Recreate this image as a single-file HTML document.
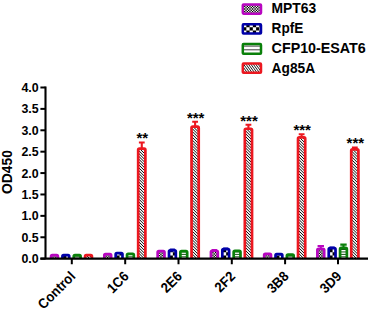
<!DOCTYPE html>
<html><head><meta charset="utf-8"><title>chart</title>
<style>
html,body{margin:0;padding:0;background:#fff;}
svg{display:block;font-family:"Liberation Sans",sans-serif;}
text{font-family:"Liberation Sans",sans-serif;font-weight:bold;fill:#000;}
</style></head><body>
<svg width="370" height="310" viewBox="0 0 370 310">
<defs>
<pattern id="pm" width="2.6" height="2.6" patternUnits="userSpaceOnUse"><rect width="2.6" height="2.6" fill="#fff"/><rect width="1.3" height="1.3" fill="#000"/><rect x="1.3" y="1.3" width="1.3" height="1.3" fill="#000"/></pattern>
<pattern id="pb" x="0.5" y="1.2" width="6.4" height="6.4" patternUnits="userSpaceOnUse"><rect width="6.4" height="6.4" fill="#fff"/><rect width="3.2" height="3.2" fill="#000"/><rect x="3.2" y="3.2" width="3.2" height="3.2" fill="#000"/></pattern>
</defs>
<rect width="370" height="310" fill="#fff"/>

<clipPath id="c1"><rect x="51.08" y="255.15" width="6.80" height="3.50"/></clipPath><g clip-path="url(#c1)"><rect x="51.08" y="255.15" width="6.80" height="3.50" fill="#fff"/><path d="M49.78,253.85h1.3v1.3h-1.3zM52.38,253.85h1.3v1.3h-1.3zM54.98,253.85h1.3v1.3h-1.3zM57.58,253.85h1.3v1.3h-1.3zM51.08,255.15h1.3v1.3h-1.3zM53.68,255.15h1.3v1.3h-1.3zM56.28,255.15h1.3v1.3h-1.3zM58.88,255.15h1.3v1.3h-1.3zM49.78,256.45h1.3v1.3h-1.3zM52.38,256.45h1.3v1.3h-1.3zM54.98,256.45h1.3v1.3h-1.3zM57.58,256.45h1.3v1.3h-1.3zM51.08,257.75h1.3v1.3h-1.3zM53.68,257.75h1.3v1.3h-1.3zM56.28,257.75h1.3v1.3h-1.3zM58.88,257.75h1.3v1.3h-1.3zM49.78,259.05h1.3v1.3h-1.3zM52.38,259.05h1.3v1.3h-1.3zM54.98,259.05h1.3v1.3h-1.3zM57.58,259.05h1.3v1.3h-1.3z" fill="#000"/></g>
<path d="M51.08,258.65 V256.35 Q51.08,255.15 52.28,255.15 H56.67 Q57.88,255.15 57.88,256.35 V258.65" fill="none" stroke="#b806c0" stroke-width="2.7" stroke-linejoin="round"/>
<clipPath id="c2"><rect x="62.43" y="255.15" width="6.80" height="3.50"/></clipPath><g clip-path="url(#c2)"><rect x="62.43" y="255.15" width="6.80" height="3.50" fill="#fff"/><path d="M56.53,248.90h3.25v3.25h-3.25zM63.03,248.90h3.25v3.25h-3.25zM69.53,248.90h3.25v3.25h-3.25zM59.78,252.15h3.25v3.25h-3.25zM66.28,252.15h3.25v3.25h-3.25zM56.53,255.40h3.25v3.25h-3.25zM63.03,255.40h3.25v3.25h-3.25zM69.53,255.40h3.25v3.25h-3.25zM59.78,258.65h3.25v3.25h-3.25zM66.28,258.65h3.25v3.25h-3.25z" fill="#000"/></g>
<path d="M62.43,258.65 V256.35 Q62.43,255.15 63.63,255.15 H68.03 Q69.23,255.15 69.23,256.35 V258.65" fill="none" stroke="#0000a8" stroke-width="2.7" stroke-linejoin="round"/>
<clipPath id="c3"><rect x="73.77" y="255.15" width="6.80" height="3.50"/></clipPath><g clip-path="url(#c3)"><rect x="73.77" y="255.15" width="6.80" height="3.50" fill="#fff"/><path d="M73.77,256.85 h6.80 " stroke="#175217" stroke-width="1.0" fill="none"/></g>
<path d="M73.77,258.65 V256.35 Q73.77,255.15 74.97,255.15 H79.38 Q80.58,255.15 80.58,256.35 V258.65" fill="none" stroke="#0a800a" stroke-width="2.7" stroke-linejoin="round"/>
<clipPath id="c4"><rect x="85.12" y="255.15" width="6.80" height="3.50"/></clipPath><g clip-path="url(#c4)"><rect x="85.12" y="255.15" width="6.80" height="3.50" fill="#fff"/><path d="M84.12,244.50 l8.80,8.80 M84.12,247.35 l8.80,8.80 M84.12,250.20 l8.80,8.80 M84.12,253.05 l8.80,8.80 M84.12,255.90 l8.80,8.80 M84.12,258.75 l8.80,8.80 " stroke="#000" stroke-width="1.0" fill="none"/></g>
<path d="M85.12,258.65 V256.35 Q85.12,255.15 86.33,255.15 H90.73 Q91.93,255.15 91.93,256.35 V258.65" fill="none" stroke="#ec1820" stroke-width="2.7" stroke-linejoin="round"/>
<clipPath id="c5"><rect x="104.32" y="254.15" width="6.80" height="4.50"/></clipPath><g clip-path="url(#c5)"><rect x="104.32" y="254.15" width="6.80" height="4.50" fill="#fff"/><path d="M103.02,252.85h1.3v1.3h-1.3zM105.62,252.85h1.3v1.3h-1.3zM108.22,252.85h1.3v1.3h-1.3zM110.82,252.85h1.3v1.3h-1.3zM104.32,254.15h1.3v1.3h-1.3zM106.92,254.15h1.3v1.3h-1.3zM109.52,254.15h1.3v1.3h-1.3zM112.12,254.15h1.3v1.3h-1.3zM103.02,255.45h1.3v1.3h-1.3zM105.62,255.45h1.3v1.3h-1.3zM108.22,255.45h1.3v1.3h-1.3zM110.82,255.45h1.3v1.3h-1.3zM104.32,256.75h1.3v1.3h-1.3zM106.92,256.75h1.3v1.3h-1.3zM109.52,256.75h1.3v1.3h-1.3zM112.12,256.75h1.3v1.3h-1.3zM103.02,258.05h1.3v1.3h-1.3zM105.62,258.05h1.3v1.3h-1.3zM108.22,258.05h1.3v1.3h-1.3zM110.82,258.05h1.3v1.3h-1.3zM104.32,259.35h1.3v1.3h-1.3zM106.92,259.35h1.3v1.3h-1.3zM109.52,259.35h1.3v1.3h-1.3zM112.12,259.35h1.3v1.3h-1.3z" fill="#000"/></g>
<path d="M104.32,258.65 V255.35 Q104.32,254.15 105.52,254.15 H109.92 Q111.12,254.15 111.12,255.35 V258.65" fill="none" stroke="#b806c0" stroke-width="2.7" stroke-linejoin="round"/>
<clipPath id="c6"><rect x="115.67" y="253.15" width="6.80" height="5.50"/></clipPath><g clip-path="url(#c6)"><rect x="115.67" y="253.15" width="6.80" height="5.50" fill="#fff"/><path d="M109.77,248.90h3.25v3.25h-3.25zM116.27,248.90h3.25v3.25h-3.25zM122.77,248.90h3.25v3.25h-3.25zM113.02,252.15h3.25v3.25h-3.25zM119.52,252.15h3.25v3.25h-3.25zM109.77,255.40h3.25v3.25h-3.25zM116.27,255.40h3.25v3.25h-3.25zM122.77,255.40h3.25v3.25h-3.25zM113.02,258.65h3.25v3.25h-3.25zM119.52,258.65h3.25v3.25h-3.25z" fill="#000"/></g>
<path d="M115.67,258.65 V254.35 Q115.67,253.15 116.88,253.15 H121.28 Q122.48,253.15 122.48,254.35 V258.65" fill="none" stroke="#0000a8" stroke-width="2.7" stroke-linejoin="round"/>
<clipPath id="c7"><rect x="127.03" y="253.85" width="6.80" height="4.80"/></clipPath><g clip-path="url(#c7)"><rect x="127.03" y="253.85" width="6.80" height="4.80" fill="#fff"/><path d="M127.03,256.85 h6.80 M127.03,254.40 h6.80 " stroke="#175217" stroke-width="1.0" fill="none"/></g>
<path d="M127.03,258.65 V255.05 Q127.03,253.85 128.22,253.85 H132.63 Q133.83,253.85 133.83,255.05 V258.65" fill="none" stroke="#0a800a" stroke-width="2.7" stroke-linejoin="round"/>
<clipPath id="c8"><rect x="138.18" y="148.65" width="7.20" height="110.00"/></clipPath><g clip-path="url(#c8)"><rect x="138.18" y="148.65" width="7.20" height="110.00" fill="#fff"/><path d="M137.18,137.60 l9.20,9.20 M137.18,140.45 l9.20,9.20 M137.18,143.30 l9.20,9.20 M137.18,146.15 l9.20,9.20 M137.18,149.00 l9.20,9.20 M137.18,151.85 l9.20,9.20 M137.18,154.70 l9.20,9.20 M137.18,157.55 l9.20,9.20 M137.18,160.40 l9.20,9.20 M137.18,163.25 l9.20,9.20 M137.18,166.10 l9.20,9.20 M137.18,168.95 l9.20,9.20 M137.18,171.80 l9.20,9.20 M137.18,174.65 l9.20,9.20 M137.18,177.50 l9.20,9.20 M137.18,180.35 l9.20,9.20 M137.18,183.20 l9.20,9.20 M137.18,186.05 l9.20,9.20 M137.18,188.90 l9.20,9.20 M137.18,191.75 l9.20,9.20 M137.18,194.60 l9.20,9.20 M137.18,197.45 l9.20,9.20 M137.18,200.30 l9.20,9.20 M137.18,203.15 l9.20,9.20 M137.18,206.00 l9.20,9.20 M137.18,208.85 l9.20,9.20 M137.18,211.70 l9.20,9.20 M137.18,214.55 l9.20,9.20 M137.18,217.40 l9.20,9.20 M137.18,220.25 l9.20,9.20 M137.18,223.10 l9.20,9.20 M137.18,225.95 l9.20,9.20 M137.18,228.80 l9.20,9.20 M137.18,231.65 l9.20,9.20 M137.18,234.50 l9.20,9.20 M137.18,237.35 l9.20,9.20 M137.18,240.20 l9.20,9.20 M137.18,243.05 l9.20,9.20 M137.18,245.90 l9.20,9.20 M137.18,248.75 l9.20,9.20 M137.18,251.60 l9.20,9.20 M137.18,254.45 l9.20,9.20 M137.18,257.30 l9.20,9.20 M137.18,260.15 l9.20,9.20 " stroke="#000" stroke-width="1.0" fill="none"/></g>
<path d="M138.18,258.65 V149.85 Q138.18,148.65 139.38,148.65 H144.18 Q145.38,148.65 145.38,149.85 V258.65" fill="none" stroke="#ec1820" stroke-width="2.7" stroke-linejoin="round"/>
<path d="M141.78,148.30 V142.50 M138.88,142.50 H144.68" stroke="#ec1820" stroke-width="2.1" fill="none"/>
<text x="142.33" y="143.20" font-size="15" text-anchor="middle">**</text>
<clipPath id="c9"><rect x="157.67" y="251.15" width="6.80" height="7.50"/></clipPath><g clip-path="url(#c9)"><rect x="157.67" y="251.15" width="6.80" height="7.50" fill="#fff"/><path d="M156.37,249.85h1.3v1.3h-1.3zM158.97,249.85h1.3v1.3h-1.3zM161.57,249.85h1.3v1.3h-1.3zM164.17,249.85h1.3v1.3h-1.3zM157.67,251.15h1.3v1.3h-1.3zM160.27,251.15h1.3v1.3h-1.3zM162.87,251.15h1.3v1.3h-1.3zM165.47,251.15h1.3v1.3h-1.3zM156.37,252.45h1.3v1.3h-1.3zM158.97,252.45h1.3v1.3h-1.3zM161.57,252.45h1.3v1.3h-1.3zM164.17,252.45h1.3v1.3h-1.3zM157.67,253.75h1.3v1.3h-1.3zM160.27,253.75h1.3v1.3h-1.3zM162.87,253.75h1.3v1.3h-1.3zM165.47,253.75h1.3v1.3h-1.3zM156.37,255.05h1.3v1.3h-1.3zM158.97,255.05h1.3v1.3h-1.3zM161.57,255.05h1.3v1.3h-1.3zM164.17,255.05h1.3v1.3h-1.3zM157.67,256.35h1.3v1.3h-1.3zM160.27,256.35h1.3v1.3h-1.3zM162.87,256.35h1.3v1.3h-1.3zM165.47,256.35h1.3v1.3h-1.3zM156.37,257.65h1.3v1.3h-1.3zM158.97,257.65h1.3v1.3h-1.3zM161.57,257.65h1.3v1.3h-1.3zM164.17,257.65h1.3v1.3h-1.3zM157.67,258.95h1.3v1.3h-1.3zM160.27,258.95h1.3v1.3h-1.3zM162.87,258.95h1.3v1.3h-1.3zM165.47,258.95h1.3v1.3h-1.3z" fill="#000"/></g>
<path d="M157.67,258.65 V252.35 Q157.67,251.15 158.87,251.15 H163.28 Q164.47,251.15 164.47,252.35 V258.65" fill="none" stroke="#b806c0" stroke-width="2.7" stroke-linejoin="round"/>
<clipPath id="c10"><rect x="169.02" y="250.35" width="6.80" height="8.30"/></clipPath><g clip-path="url(#c10)"><rect x="169.02" y="250.35" width="6.80" height="8.30" fill="#fff"/><path d="M166.37,245.65h3.25v3.25h-3.25zM172.87,245.65h3.25v3.25h-3.25zM163.12,248.90h3.25v3.25h-3.25zM169.62,248.90h3.25v3.25h-3.25zM176.12,248.90h3.25v3.25h-3.25zM166.37,252.15h3.25v3.25h-3.25zM172.87,252.15h3.25v3.25h-3.25zM163.12,255.40h3.25v3.25h-3.25zM169.62,255.40h3.25v3.25h-3.25zM176.12,255.40h3.25v3.25h-3.25zM166.37,258.65h3.25v3.25h-3.25zM172.87,258.65h3.25v3.25h-3.25z" fill="#000"/></g>
<path d="M169.02,258.65 V251.55 Q169.02,250.35 170.22,250.35 H174.62 Q175.82,250.35 175.82,251.55 V258.65" fill="none" stroke="#0000a8" stroke-width="2.7" stroke-linejoin="round"/>
<path d="M170.42,249.50 H174.42" stroke="#0000a8" stroke-width="1.8" stroke-linecap="round" fill="none"/>
<clipPath id="c11"><rect x="180.38" y="251.15" width="6.80" height="7.50"/></clipPath><g clip-path="url(#c11)"><rect x="180.38" y="251.15" width="6.80" height="7.50" fill="#fff"/><path d="M180.38,256.85 h6.80 M180.38,254.40 h6.80 M180.38,251.95 h6.80 " stroke="#175217" stroke-width="1.0" fill="none"/></g>
<path d="M180.38,258.65 V252.35 Q180.38,251.15 181.57,251.15 H185.98 Q187.18,251.15 187.18,252.35 V258.65" fill="none" stroke="#0a800a" stroke-width="2.7" stroke-linejoin="round"/>
<clipPath id="c12"><rect x="191.53" y="126.55" width="7.20" height="132.10"/></clipPath><g clip-path="url(#c12)"><rect x="191.53" y="126.55" width="7.20" height="132.10" fill="#fff"/><path d="M190.53,115.50 l9.20,9.20 M190.53,118.35 l9.20,9.20 M190.53,121.20 l9.20,9.20 M190.53,124.05 l9.20,9.20 M190.53,126.90 l9.20,9.20 M190.53,129.75 l9.20,9.20 M190.53,132.60 l9.20,9.20 M190.53,135.45 l9.20,9.20 M190.53,138.30 l9.20,9.20 M190.53,141.15 l9.20,9.20 M190.53,144.00 l9.20,9.20 M190.53,146.85 l9.20,9.20 M190.53,149.70 l9.20,9.20 M190.53,152.55 l9.20,9.20 M190.53,155.40 l9.20,9.20 M190.53,158.25 l9.20,9.20 M190.53,161.10 l9.20,9.20 M190.53,163.95 l9.20,9.20 M190.53,166.80 l9.20,9.20 M190.53,169.65 l9.20,9.20 M190.53,172.50 l9.20,9.20 M190.53,175.35 l9.20,9.20 M190.53,178.20 l9.20,9.20 M190.53,181.05 l9.20,9.20 M190.53,183.90 l9.20,9.20 M190.53,186.75 l9.20,9.20 M190.53,189.60 l9.20,9.20 M190.53,192.45 l9.20,9.20 M190.53,195.30 l9.20,9.20 M190.53,198.15 l9.20,9.20 M190.53,201.00 l9.20,9.20 M190.53,203.85 l9.20,9.20 M190.53,206.70 l9.20,9.20 M190.53,209.55 l9.20,9.20 M190.53,212.40 l9.20,9.20 M190.53,215.25 l9.20,9.20 M190.53,218.10 l9.20,9.20 M190.53,220.95 l9.20,9.20 M190.53,223.80 l9.20,9.20 M190.53,226.65 l9.20,9.20 M190.53,229.50 l9.20,9.20 M190.53,232.35 l9.20,9.20 M190.53,235.20 l9.20,9.20 M190.53,238.05 l9.20,9.20 M190.53,240.90 l9.20,9.20 M190.53,243.75 l9.20,9.20 M190.53,246.60 l9.20,9.20 M190.53,249.45 l9.20,9.20 M190.53,252.30 l9.20,9.20 M190.53,255.15 l9.20,9.20 M190.53,258.00 l9.20,9.20 " stroke="#000" stroke-width="1.0" fill="none"/></g>
<path d="M191.53,258.65 V127.75 Q191.53,126.55 192.72,126.55 H197.53 Q198.72,126.55 198.72,127.75 V258.65" fill="none" stroke="#ec1820" stroke-width="2.7" stroke-linejoin="round"/>
<path d="M195.12,126.20 V121.80 M192.22,121.80 H198.03" stroke="#ec1820" stroke-width="2.1" fill="none"/>
<text x="195.68" y="122.50" font-size="15" text-anchor="middle">***</text>
<clipPath id="c13"><rect x="210.97" y="250.75" width="6.80" height="7.90"/></clipPath><g clip-path="url(#c13)"><rect x="210.97" y="250.75" width="6.80" height="7.90" fill="#fff"/><path d="M209.67,249.45h1.3v1.3h-1.3zM212.28,249.45h1.3v1.3h-1.3zM214.88,249.45h1.3v1.3h-1.3zM217.47,249.45h1.3v1.3h-1.3zM210.97,250.75h1.3v1.3h-1.3zM213.57,250.75h1.3v1.3h-1.3zM216.17,250.75h1.3v1.3h-1.3zM218.78,250.75h1.3v1.3h-1.3zM209.67,252.05h1.3v1.3h-1.3zM212.28,252.05h1.3v1.3h-1.3zM214.88,252.05h1.3v1.3h-1.3zM217.47,252.05h1.3v1.3h-1.3zM210.97,253.35h1.3v1.3h-1.3zM213.57,253.35h1.3v1.3h-1.3zM216.17,253.35h1.3v1.3h-1.3zM218.78,253.35h1.3v1.3h-1.3zM209.67,254.65h1.3v1.3h-1.3zM212.28,254.65h1.3v1.3h-1.3zM214.88,254.65h1.3v1.3h-1.3zM217.47,254.65h1.3v1.3h-1.3zM210.97,255.95h1.3v1.3h-1.3zM213.57,255.95h1.3v1.3h-1.3zM216.17,255.95h1.3v1.3h-1.3zM218.78,255.95h1.3v1.3h-1.3zM209.67,257.25h1.3v1.3h-1.3zM212.28,257.25h1.3v1.3h-1.3zM214.88,257.25h1.3v1.3h-1.3zM217.47,257.25h1.3v1.3h-1.3zM210.97,258.55h1.3v1.3h-1.3zM213.57,258.55h1.3v1.3h-1.3zM216.17,258.55h1.3v1.3h-1.3zM218.78,258.55h1.3v1.3h-1.3zM209.67,259.85h1.3v1.3h-1.3zM212.28,259.85h1.3v1.3h-1.3zM214.88,259.85h1.3v1.3h-1.3zM217.47,259.85h1.3v1.3h-1.3z" fill="#000"/></g>
<path d="M210.97,258.65 V251.95 Q210.97,250.75 212.17,250.75 H216.58 Q217.78,250.75 217.78,251.95 V258.65" fill="none" stroke="#b806c0" stroke-width="2.7" stroke-linejoin="round"/>
<path d="M212.38,249.90 H216.38" stroke="#b806c0" stroke-width="1.8" stroke-linecap="round" fill="none"/>
<clipPath id="c14"><rect x="222.32" y="249.15" width="6.80" height="9.50"/></clipPath><g clip-path="url(#c14)"><rect x="222.32" y="249.15" width="6.80" height="9.50" fill="#fff"/><path d="M219.67,245.65h3.25v3.25h-3.25zM226.17,245.65h3.25v3.25h-3.25zM216.42,248.90h3.25v3.25h-3.25zM222.92,248.90h3.25v3.25h-3.25zM229.42,248.90h3.25v3.25h-3.25zM219.67,252.15h3.25v3.25h-3.25zM226.17,252.15h3.25v3.25h-3.25zM216.42,255.40h3.25v3.25h-3.25zM222.92,255.40h3.25v3.25h-3.25zM229.42,255.40h3.25v3.25h-3.25zM219.67,258.65h3.25v3.25h-3.25zM226.17,258.65h3.25v3.25h-3.25z" fill="#000"/></g>
<path d="M222.32,258.65 V250.35 Q222.32,249.15 223.52,249.15 H227.93 Q229.12,249.15 229.12,250.35 V258.65" fill="none" stroke="#0000a8" stroke-width="2.7" stroke-linejoin="round"/>
<path d="M223.72,248.30 H227.72" stroke="#0000a8" stroke-width="1.8" stroke-linecap="round" fill="none"/>
<clipPath id="c15"><rect x="233.68" y="250.95" width="6.80" height="7.70"/></clipPath><g clip-path="url(#c15)"><rect x="233.68" y="250.95" width="6.80" height="7.70" fill="#fff"/><path d="M233.68,256.85 h6.80 M233.68,254.40 h6.80 M233.68,251.95 h6.80 " stroke="#175217" stroke-width="1.0" fill="none"/></g>
<path d="M233.68,258.65 V252.15 Q233.68,250.95 234.88,250.95 H239.28 Q240.48,250.95 240.48,252.15 V258.65" fill="none" stroke="#0a800a" stroke-width="2.7" stroke-linejoin="round"/>
<clipPath id="c16"><rect x="244.83" y="128.75" width="7.20" height="129.90"/></clipPath><g clip-path="url(#c16)"><rect x="244.83" y="128.75" width="7.20" height="129.90" fill="#fff"/><path d="M243.83,117.70 l9.20,9.20 M243.83,120.55 l9.20,9.20 M243.83,123.40 l9.20,9.20 M243.83,126.25 l9.20,9.20 M243.83,129.10 l9.20,9.20 M243.83,131.95 l9.20,9.20 M243.83,134.80 l9.20,9.20 M243.83,137.65 l9.20,9.20 M243.83,140.50 l9.20,9.20 M243.83,143.35 l9.20,9.20 M243.83,146.20 l9.20,9.20 M243.83,149.05 l9.20,9.20 M243.83,151.90 l9.20,9.20 M243.83,154.75 l9.20,9.20 M243.83,157.60 l9.20,9.20 M243.83,160.45 l9.20,9.20 M243.83,163.30 l9.20,9.20 M243.83,166.15 l9.20,9.20 M243.83,169.00 l9.20,9.20 M243.83,171.85 l9.20,9.20 M243.83,174.70 l9.20,9.20 M243.83,177.55 l9.20,9.20 M243.83,180.40 l9.20,9.20 M243.83,183.25 l9.20,9.20 M243.83,186.10 l9.20,9.20 M243.83,188.95 l9.20,9.20 M243.83,191.80 l9.20,9.20 M243.83,194.65 l9.20,9.20 M243.83,197.50 l9.20,9.20 M243.83,200.35 l9.20,9.20 M243.83,203.20 l9.20,9.20 M243.83,206.05 l9.20,9.20 M243.83,208.90 l9.20,9.20 M243.83,211.75 l9.20,9.20 M243.83,214.60 l9.20,9.20 M243.83,217.45 l9.20,9.20 M243.83,220.30 l9.20,9.20 M243.83,223.15 l9.20,9.20 M243.83,226.00 l9.20,9.20 M243.83,228.85 l9.20,9.20 M243.83,231.70 l9.20,9.20 M243.83,234.55 l9.20,9.20 M243.83,237.40 l9.20,9.20 M243.83,240.25 l9.20,9.20 M243.83,243.10 l9.20,9.20 M243.83,245.95 l9.20,9.20 M243.83,248.80 l9.20,9.20 M243.83,251.65 l9.20,9.20 M243.83,254.50 l9.20,9.20 M243.83,257.35 l9.20,9.20 M243.83,260.20 l9.20,9.20 " stroke="#000" stroke-width="1.0" fill="none"/></g>
<path d="M244.83,258.65 V129.95 Q244.83,128.75 246.03,128.75 H250.83 Q252.03,128.75 252.03,129.95 V258.65" fill="none" stroke="#ec1820" stroke-width="2.7" stroke-linejoin="round"/>
<path d="M248.43,128.40 V124.80 M245.53,124.80 H251.33" stroke="#ec1820" stroke-width="2.1" fill="none"/>
<text x="248.98" y="125.50" font-size="15" text-anchor="middle">***</text>
<clipPath id="c17"><rect x="264.18" y="253.85" width="6.80" height="4.80"/></clipPath><g clip-path="url(#c17)"><rect x="264.18" y="253.85" width="6.80" height="4.80" fill="#fff"/><path d="M262.88,252.55h1.3v1.3h-1.3zM265.48,252.55h1.3v1.3h-1.3zM268.08,252.55h1.3v1.3h-1.3zM270.68,252.55h1.3v1.3h-1.3zM264.18,253.85h1.3v1.3h-1.3zM266.78,253.85h1.3v1.3h-1.3zM269.38,253.85h1.3v1.3h-1.3zM271.98,253.85h1.3v1.3h-1.3zM262.88,255.15h1.3v1.3h-1.3zM265.48,255.15h1.3v1.3h-1.3zM268.08,255.15h1.3v1.3h-1.3zM270.68,255.15h1.3v1.3h-1.3zM264.18,256.45h1.3v1.3h-1.3zM266.78,256.45h1.3v1.3h-1.3zM269.38,256.45h1.3v1.3h-1.3zM271.98,256.45h1.3v1.3h-1.3zM262.88,257.75h1.3v1.3h-1.3zM265.48,257.75h1.3v1.3h-1.3zM268.08,257.75h1.3v1.3h-1.3zM270.68,257.75h1.3v1.3h-1.3zM264.18,259.05h1.3v1.3h-1.3zM266.78,259.05h1.3v1.3h-1.3zM269.38,259.05h1.3v1.3h-1.3zM271.98,259.05h1.3v1.3h-1.3z" fill="#000"/></g>
<path d="M264.18,258.65 V255.05 Q264.18,253.85 265.38,253.85 H269.78 Q270.98,253.85 270.98,255.05 V258.65" fill="none" stroke="#b806c0" stroke-width="2.7" stroke-linejoin="round"/>
<clipPath id="c18"><rect x="275.53" y="254.15" width="6.80" height="4.50"/></clipPath><g clip-path="url(#c18)"><rect x="275.53" y="254.15" width="6.80" height="4.50" fill="#fff"/><path d="M269.63,248.90h3.25v3.25h-3.25zM276.13,248.90h3.25v3.25h-3.25zM282.63,248.90h3.25v3.25h-3.25zM272.88,252.15h3.25v3.25h-3.25zM279.38,252.15h3.25v3.25h-3.25zM269.63,255.40h3.25v3.25h-3.25zM276.13,255.40h3.25v3.25h-3.25zM282.63,255.40h3.25v3.25h-3.25zM272.88,258.65h3.25v3.25h-3.25zM279.38,258.65h3.25v3.25h-3.25z" fill="#000"/></g>
<path d="M275.53,258.65 V255.35 Q275.53,254.15 276.73,254.15 H281.12 Q282.32,254.15 282.32,255.35 V258.65" fill="none" stroke="#0000a8" stroke-width="2.7" stroke-linejoin="round"/>
<clipPath id="c19"><rect x="286.88" y="254.65" width="6.80" height="4.00"/></clipPath><g clip-path="url(#c19)"><rect x="286.88" y="254.65" width="6.80" height="4.00" fill="#fff"/><path d="M286.88,256.85 h6.80 " stroke="#175217" stroke-width="1.0" fill="none"/></g>
<path d="M286.88,258.65 V255.85 Q286.88,254.65 288.08,254.65 H292.48 Q293.68,254.65 293.68,255.85 V258.65" fill="none" stroke="#0a800a" stroke-width="2.7" stroke-linejoin="round"/>
<clipPath id="c20"><rect x="298.03" y="137.45" width="7.20" height="121.20"/></clipPath><g clip-path="url(#c20)"><rect x="298.03" y="137.45" width="7.20" height="121.20" fill="#fff"/><path d="M297.03,126.40 l9.20,9.20 M297.03,129.25 l9.20,9.20 M297.03,132.10 l9.20,9.20 M297.03,134.95 l9.20,9.20 M297.03,137.80 l9.20,9.20 M297.03,140.65 l9.20,9.20 M297.03,143.50 l9.20,9.20 M297.03,146.35 l9.20,9.20 M297.03,149.20 l9.20,9.20 M297.03,152.05 l9.20,9.20 M297.03,154.90 l9.20,9.20 M297.03,157.75 l9.20,9.20 M297.03,160.60 l9.20,9.20 M297.03,163.45 l9.20,9.20 M297.03,166.30 l9.20,9.20 M297.03,169.15 l9.20,9.20 M297.03,172.00 l9.20,9.20 M297.03,174.85 l9.20,9.20 M297.03,177.70 l9.20,9.20 M297.03,180.55 l9.20,9.20 M297.03,183.40 l9.20,9.20 M297.03,186.25 l9.20,9.20 M297.03,189.10 l9.20,9.20 M297.03,191.95 l9.20,9.20 M297.03,194.80 l9.20,9.20 M297.03,197.65 l9.20,9.20 M297.03,200.50 l9.20,9.20 M297.03,203.35 l9.20,9.20 M297.03,206.20 l9.20,9.20 M297.03,209.05 l9.20,9.20 M297.03,211.90 l9.20,9.20 M297.03,214.75 l9.20,9.20 M297.03,217.60 l9.20,9.20 M297.03,220.45 l9.20,9.20 M297.03,223.30 l9.20,9.20 M297.03,226.15 l9.20,9.20 M297.03,229.00 l9.20,9.20 M297.03,231.85 l9.20,9.20 M297.03,234.70 l9.20,9.20 M297.03,237.55 l9.20,9.20 M297.03,240.40 l9.20,9.20 M297.03,243.25 l9.20,9.20 M297.03,246.10 l9.20,9.20 M297.03,248.95 l9.20,9.20 M297.03,251.80 l9.20,9.20 M297.03,254.65 l9.20,9.20 M297.03,257.50 l9.20,9.20 M297.03,260.35 l9.20,9.20 " stroke="#000" stroke-width="1.0" fill="none"/></g>
<path d="M298.03,258.65 V138.65 Q298.03,137.45 299.23,137.45 H304.02 Q305.22,137.45 305.22,138.65 V258.65" fill="none" stroke="#ec1820" stroke-width="2.7" stroke-linejoin="round"/>
<path d="M301.62,137.10 V134.20 M298.73,134.20 H304.52" stroke="#ec1820" stroke-width="2.1" fill="none"/>
<text x="302.18" y="134.90" font-size="15" text-anchor="middle">***</text>
<clipPath id="c21"><rect x="317.38" y="248.85" width="6.80" height="9.80"/></clipPath><g clip-path="url(#c21)"><rect x="317.38" y="248.85" width="6.80" height="9.80" fill="#fff"/><path d="M316.08,247.55h1.3v1.3h-1.3zM318.68,247.55h1.3v1.3h-1.3zM321.28,247.55h1.3v1.3h-1.3zM323.88,247.55h1.3v1.3h-1.3zM317.38,248.85h1.3v1.3h-1.3zM319.98,248.85h1.3v1.3h-1.3zM322.58,248.85h1.3v1.3h-1.3zM325.18,248.85h1.3v1.3h-1.3zM316.08,250.15h1.3v1.3h-1.3zM318.68,250.15h1.3v1.3h-1.3zM321.28,250.15h1.3v1.3h-1.3zM323.88,250.15h1.3v1.3h-1.3zM317.38,251.45h1.3v1.3h-1.3zM319.98,251.45h1.3v1.3h-1.3zM322.58,251.45h1.3v1.3h-1.3zM325.18,251.45h1.3v1.3h-1.3zM316.08,252.75h1.3v1.3h-1.3zM318.68,252.75h1.3v1.3h-1.3zM321.28,252.75h1.3v1.3h-1.3zM323.88,252.75h1.3v1.3h-1.3zM317.38,254.05h1.3v1.3h-1.3zM319.98,254.05h1.3v1.3h-1.3zM322.58,254.05h1.3v1.3h-1.3zM325.18,254.05h1.3v1.3h-1.3zM316.08,255.35h1.3v1.3h-1.3zM318.68,255.35h1.3v1.3h-1.3zM321.28,255.35h1.3v1.3h-1.3zM323.88,255.35h1.3v1.3h-1.3zM317.38,256.65h1.3v1.3h-1.3zM319.98,256.65h1.3v1.3h-1.3zM322.58,256.65h1.3v1.3h-1.3zM325.18,256.65h1.3v1.3h-1.3zM316.08,257.95h1.3v1.3h-1.3zM318.68,257.95h1.3v1.3h-1.3zM321.28,257.95h1.3v1.3h-1.3zM323.88,257.95h1.3v1.3h-1.3zM317.38,259.25h1.3v1.3h-1.3zM319.98,259.25h1.3v1.3h-1.3zM322.58,259.25h1.3v1.3h-1.3zM325.18,259.25h1.3v1.3h-1.3z" fill="#000"/></g>
<path d="M317.38,258.65 V250.05 Q317.38,248.85 318.58,248.85 H322.98 Q324.18,248.85 324.18,250.05 V258.65" fill="none" stroke="#b806c0" stroke-width="2.7" stroke-linejoin="round"/>
<path d="M320.78,248.50 V246.00 M317.58,246.00 H323.98" stroke="#b806c0" stroke-width="2.1" fill="none"/>
<clipPath id="c22"><rect x="328.73" y="248.15" width="6.80" height="10.50"/></clipPath><g clip-path="url(#c22)"><rect x="328.73" y="248.15" width="6.80" height="10.50" fill="#fff"/><path d="M322.83,242.40h3.25v3.25h-3.25zM329.33,242.40h3.25v3.25h-3.25zM335.83,242.40h3.25v3.25h-3.25zM326.08,245.65h3.25v3.25h-3.25zM332.58,245.65h3.25v3.25h-3.25zM322.83,248.90h3.25v3.25h-3.25zM329.33,248.90h3.25v3.25h-3.25zM335.83,248.90h3.25v3.25h-3.25zM326.08,252.15h3.25v3.25h-3.25zM332.58,252.15h3.25v3.25h-3.25zM322.83,255.40h3.25v3.25h-3.25zM329.33,255.40h3.25v3.25h-3.25zM335.83,255.40h3.25v3.25h-3.25zM326.08,258.65h3.25v3.25h-3.25zM332.58,258.65h3.25v3.25h-3.25z" fill="#000"/></g>
<path d="M328.73,258.65 V249.35 Q328.73,248.15 329.93,248.15 H334.32 Q335.52,248.15 335.52,249.35 V258.65" fill="none" stroke="#0000a8" stroke-width="2.7" stroke-linejoin="round"/>
<path d="M330.12,247.30 H334.12" stroke="#0000a8" stroke-width="1.8" stroke-linecap="round" fill="none"/>
<clipPath id="c23"><rect x="340.08" y="247.95" width="6.80" height="10.70"/></clipPath><g clip-path="url(#c23)"><rect x="340.08" y="247.95" width="6.80" height="10.70" fill="#fff"/><path d="M340.08,256.85 h6.80 M340.08,254.40 h6.80 M340.08,251.95 h6.80 M340.08,249.50 h6.80 " stroke="#175217" stroke-width="1.0" fill="none"/></g>
<path d="M340.08,258.65 V249.15 Q340.08,247.95 341.28,247.95 H345.68 Q346.88,247.95 346.88,249.15 V258.65" fill="none" stroke="#0a800a" stroke-width="2.7" stroke-linejoin="round"/>
<path d="M343.48,247.60 V244.60 M340.28,244.60 H346.68" stroke="#0a800a" stroke-width="2.1" fill="none"/>
<clipPath id="c24"><rect x="351.23" y="149.35" width="7.20" height="109.30"/></clipPath><g clip-path="url(#c24)"><rect x="351.23" y="149.35" width="7.20" height="109.30" fill="#fff"/><path d="M350.23,138.30 l9.20,9.20 M350.23,141.15 l9.20,9.20 M350.23,144.00 l9.20,9.20 M350.23,146.85 l9.20,9.20 M350.23,149.70 l9.20,9.20 M350.23,152.55 l9.20,9.20 M350.23,155.40 l9.20,9.20 M350.23,158.25 l9.20,9.20 M350.23,161.10 l9.20,9.20 M350.23,163.95 l9.20,9.20 M350.23,166.80 l9.20,9.20 M350.23,169.65 l9.20,9.20 M350.23,172.50 l9.20,9.20 M350.23,175.35 l9.20,9.20 M350.23,178.20 l9.20,9.20 M350.23,181.05 l9.20,9.20 M350.23,183.90 l9.20,9.20 M350.23,186.75 l9.20,9.20 M350.23,189.60 l9.20,9.20 M350.23,192.45 l9.20,9.20 M350.23,195.30 l9.20,9.20 M350.23,198.15 l9.20,9.20 M350.23,201.00 l9.20,9.20 M350.23,203.85 l9.20,9.20 M350.23,206.70 l9.20,9.20 M350.23,209.55 l9.20,9.20 M350.23,212.40 l9.20,9.20 M350.23,215.25 l9.20,9.20 M350.23,218.10 l9.20,9.20 M350.23,220.95 l9.20,9.20 M350.23,223.80 l9.20,9.20 M350.23,226.65 l9.20,9.20 M350.23,229.50 l9.20,9.20 M350.23,232.35 l9.20,9.20 M350.23,235.20 l9.20,9.20 M350.23,238.05 l9.20,9.20 M350.23,240.90 l9.20,9.20 M350.23,243.75 l9.20,9.20 M350.23,246.60 l9.20,9.20 M350.23,249.45 l9.20,9.20 M350.23,252.30 l9.20,9.20 M350.23,255.15 l9.20,9.20 M350.23,258.00 l9.20,9.20 " stroke="#000" stroke-width="1.0" fill="none"/></g>
<path d="M351.23,258.65 V150.55 Q351.23,149.35 352.43,149.35 H357.22 Q358.42,149.35 358.42,150.55 V258.65" fill="none" stroke="#ec1820" stroke-width="2.7" stroke-linejoin="round"/>
<path d="M354.82,149.00 V147.50 M351.93,147.50 H357.72" stroke="#ec1820" stroke-width="2.1" fill="none"/>
<text x="355.38" y="148.25" font-size="15" text-anchor="middle">***</text>
<path d="M45.5,86.5 V259.65 M40.4,258.65 H368" stroke="#000" stroke-width="2.1" fill="none"/>
<path d="M40.4,258.65 H45.5" stroke="#000" stroke-width="2" fill="none"/>
<text x="38.7" y="262.85" font-size="12.4" text-anchor="end">0.0</text>
<path d="M40.4,237.26 H45.5" stroke="#000" stroke-width="2" fill="none"/>
<text x="38.7" y="241.76" font-size="12.4" text-anchor="end">0.5</text>
<path d="M40.4,215.86 H45.5" stroke="#000" stroke-width="2" fill="none"/>
<text x="38.7" y="220.36" font-size="12.4" text-anchor="end">1.0</text>
<path d="M40.4,194.47 H45.5" stroke="#000" stroke-width="2" fill="none"/>
<text x="38.7" y="198.97" font-size="12.4" text-anchor="end">1.5</text>
<path d="M40.4,173.07 H45.5" stroke="#000" stroke-width="2" fill="none"/>
<text x="38.7" y="177.57" font-size="12.4" text-anchor="end">2.0</text>
<path d="M40.4,151.68 H45.5" stroke="#000" stroke-width="2" fill="none"/>
<text x="38.7" y="156.18" font-size="12.4" text-anchor="end">2.5</text>
<path d="M40.4,130.29 H45.5" stroke="#000" stroke-width="2" fill="none"/>
<text x="38.7" y="134.79" font-size="12.4" text-anchor="end">3.0</text>
<path d="M40.4,108.89 H45.5" stroke="#000" stroke-width="2" fill="none"/>
<text x="38.7" y="113.39" font-size="12.4" text-anchor="end">3.5</text>
<path d="M40.4,87.50 H45.5" stroke="#000" stroke-width="2" fill="none"/>
<text x="38.7" y="92.00" font-size="12.4" text-anchor="end">4.0</text>
<path d="M71.8,258.65 V264.25" stroke="#000" stroke-width="2" fill="none"/>
<path d="M125.2,258.65 V264.25" stroke="#000" stroke-width="2" fill="none"/>
<path d="M178.5,258.65 V264.25" stroke="#000" stroke-width="2" fill="none"/>
<path d="M231.8,258.65 V264.25" stroke="#000" stroke-width="2" fill="none"/>
<path d="M285.1,258.65 V264.25" stroke="#000" stroke-width="2" fill="none"/>
<path d="M338.0,258.65 V264.25" stroke="#000" stroke-width="2" fill="none"/>
<text transform="translate(76.20,277.25) rotate(-45) scale(1,1.08)" font-size="13.0" text-anchor="end">Control</text>
<text transform="translate(129.60,277.25) rotate(-45) scale(1,1.08)" font-size="13.0" text-anchor="end">1C6</text>
<text transform="translate(182.90,277.25) rotate(-45) scale(1,1.08)" font-size="13.0" text-anchor="end">2E6</text>
<text transform="translate(236.20,277.25) rotate(-45) scale(1,1.08)" font-size="13.0" text-anchor="end">2F2</text>
<text transform="translate(289.50,277.25) rotate(-45) scale(1,1.08)" font-size="13.0" text-anchor="end">3B8</text>
<text transform="translate(342.40,277.25) rotate(-45) scale(1,1.08)" font-size="13.0" text-anchor="end">3D9</text>
<text transform="translate(12.3,172) rotate(-90)" font-size="14.4" text-anchor="middle" textLength="43.8" lengthAdjust="spacingAndGlyphs">OD450</text>
<clipPath id="c25"><rect x="242.80" y="4.45" width="18.20" height="9.20"/></clipPath><g clip-path="url(#c25)"><rect x="242.80" y="4.45" width="18.20" height="9.20" fill="#fff"/><path d="M241.50,3.15h1.3v1.3h-1.3zM244.10,3.15h1.3v1.3h-1.3zM246.70,3.15h1.3v1.3h-1.3zM249.30,3.15h1.3v1.3h-1.3zM251.90,3.15h1.3v1.3h-1.3zM254.50,3.15h1.3v1.3h-1.3zM257.10,3.15h1.3v1.3h-1.3zM259.70,3.15h1.3v1.3h-1.3zM242.80,4.45h1.3v1.3h-1.3zM245.40,4.45h1.3v1.3h-1.3zM248.00,4.45h1.3v1.3h-1.3zM250.60,4.45h1.3v1.3h-1.3zM253.20,4.45h1.3v1.3h-1.3zM255.80,4.45h1.3v1.3h-1.3zM258.40,4.45h1.3v1.3h-1.3zM261.00,4.45h1.3v1.3h-1.3zM241.50,5.75h1.3v1.3h-1.3zM244.10,5.75h1.3v1.3h-1.3zM246.70,5.75h1.3v1.3h-1.3zM249.30,5.75h1.3v1.3h-1.3zM251.90,5.75h1.3v1.3h-1.3zM254.50,5.75h1.3v1.3h-1.3zM257.10,5.75h1.3v1.3h-1.3zM259.70,5.75h1.3v1.3h-1.3zM242.80,7.05h1.3v1.3h-1.3zM245.40,7.05h1.3v1.3h-1.3zM248.00,7.05h1.3v1.3h-1.3zM250.60,7.05h1.3v1.3h-1.3zM253.20,7.05h1.3v1.3h-1.3zM255.80,7.05h1.3v1.3h-1.3zM258.40,7.05h1.3v1.3h-1.3zM261.00,7.05h1.3v1.3h-1.3zM241.50,8.35h1.3v1.3h-1.3zM244.10,8.35h1.3v1.3h-1.3zM246.70,8.35h1.3v1.3h-1.3zM249.30,8.35h1.3v1.3h-1.3zM251.90,8.35h1.3v1.3h-1.3zM254.50,8.35h1.3v1.3h-1.3zM257.10,8.35h1.3v1.3h-1.3zM259.70,8.35h1.3v1.3h-1.3zM242.80,9.65h1.3v1.3h-1.3zM245.40,9.65h1.3v1.3h-1.3zM248.00,9.65h1.3v1.3h-1.3zM250.60,9.65h1.3v1.3h-1.3zM253.20,9.65h1.3v1.3h-1.3zM255.80,9.65h1.3v1.3h-1.3zM258.40,9.65h1.3v1.3h-1.3zM261.00,9.65h1.3v1.3h-1.3zM241.50,10.95h1.3v1.3h-1.3zM244.10,10.95h1.3v1.3h-1.3zM246.70,10.95h1.3v1.3h-1.3zM249.30,10.95h1.3v1.3h-1.3zM251.90,10.95h1.3v1.3h-1.3zM254.50,10.95h1.3v1.3h-1.3zM257.10,10.95h1.3v1.3h-1.3zM259.70,10.95h1.3v1.3h-1.3zM242.80,12.25h1.3v1.3h-1.3zM245.40,12.25h1.3v1.3h-1.3zM248.00,12.25h1.3v1.3h-1.3zM250.60,12.25h1.3v1.3h-1.3zM253.20,12.25h1.3v1.3h-1.3zM255.80,12.25h1.3v1.3h-1.3zM258.40,12.25h1.3v1.3h-1.3zM261.00,12.25h1.3v1.3h-1.3zM241.50,13.55h1.3v1.3h-1.3zM244.10,13.55h1.3v1.3h-1.3zM246.70,13.55h1.3v1.3h-1.3zM249.30,13.55h1.3v1.3h-1.3zM251.90,13.55h1.3v1.3h-1.3zM254.50,13.55h1.3v1.3h-1.3zM257.10,13.55h1.3v1.3h-1.3zM259.70,13.55h1.3v1.3h-1.3zM242.80,14.85h1.3v1.3h-1.3zM245.40,14.85h1.3v1.3h-1.3zM248.00,14.85h1.3v1.3h-1.3zM250.60,14.85h1.3v1.3h-1.3zM253.20,14.85h1.3v1.3h-1.3zM255.80,14.85h1.3v1.3h-1.3zM258.40,14.85h1.3v1.3h-1.3zM261.00,14.85h1.3v1.3h-1.3z" fill="#000"/></g>
<rect x="242.8" y="4.45" width="18.2" height="9.2" rx="0.8" fill="none" stroke="#b806c0" stroke-width="2.5" stroke-linejoin="round"/>
<text x="271.6" y="13.10" font-size="14.3" textLength="44.6" lengthAdjust="spacingAndGlyphs">MPT63</text>
<clipPath id="c26"><rect x="242.80" y="24.35" width="18.20" height="9.20"/></clipPath><g clip-path="url(#c26)"><rect x="242.80" y="24.35" width="18.20" height="9.20" fill="#fff"/><path d="M236.60,20.83h3.25v3.25h-3.25zM243.10,20.83h3.25v3.25h-3.25zM249.60,20.83h3.25v3.25h-3.25zM256.10,20.83h3.25v3.25h-3.25zM262.60,20.83h3.25v3.25h-3.25zM239.85,24.08h3.25v3.25h-3.25zM246.35,24.08h3.25v3.25h-3.25zM252.85,24.08h3.25v3.25h-3.25zM259.35,24.08h3.25v3.25h-3.25zM236.60,27.33h3.25v3.25h-3.25zM243.10,27.33h3.25v3.25h-3.25zM249.60,27.33h3.25v3.25h-3.25zM256.10,27.33h3.25v3.25h-3.25zM262.60,27.33h3.25v3.25h-3.25zM239.85,30.58h3.25v3.25h-3.25zM246.35,30.58h3.25v3.25h-3.25zM252.85,30.58h3.25v3.25h-3.25zM259.35,30.58h3.25v3.25h-3.25zM236.60,33.83h3.25v3.25h-3.25zM243.10,33.83h3.25v3.25h-3.25zM249.60,33.83h3.25v3.25h-3.25zM256.10,33.83h3.25v3.25h-3.25zM262.60,33.83h3.25v3.25h-3.25z" fill="#000"/></g>
<rect x="242.8" y="24.35" width="18.2" height="9.2" rx="0.8" fill="none" stroke="#0000a8" stroke-width="2.5" stroke-linejoin="round"/>
<text x="271.6" y="32.70" font-size="14.3" textLength="31.7" lengthAdjust="spacingAndGlyphs">RpfE</text>
<clipPath id="c27"><rect x="242.80" y="44.10" width="18.20" height="9.70"/></clipPath><g clip-path="url(#c27)"><rect x="242.80" y="44.10" width="18.20" height="9.70" fill="#fff"/><path d="M242.80,46.10 h18.20 M242.80,49.80 h18.20 M242.80,53.50 h18.20 " stroke="#2a2a2a" stroke-width="0.9" fill="none"/></g>
<rect x="242.8" y="44.10" width="18.2" height="9.7" rx="0.8" fill="none" stroke="#0a800a" stroke-width="2.5" stroke-linejoin="round"/>
<text x="271.6" y="53.20" font-size="14.3" textLength="94.2" lengthAdjust="spacingAndGlyphs">CFP10-ESAT6</text>
<clipPath id="c28"><rect x="242.80" y="63.60" width="18.20" height="9.20"/></clipPath><g clip-path="url(#c28)"><rect x="242.80" y="63.60" width="18.20" height="9.20" fill="#fff"/><path d="M232.71,62.60 l8.06,11.20 M235.14,62.60 l8.06,11.20 M237.57,62.60 l8.06,11.20 M240.00,62.60 l8.06,11.20 M242.43,62.60 l8.06,11.20 M244.86,62.60 l8.06,11.20 M247.29,62.60 l8.06,11.20 M249.72,62.60 l8.06,11.20 M252.15,62.60 l8.06,11.20 M254.58,62.60 l8.06,11.20 M257.01,62.60 l8.06,11.20 M259.44,62.60 l8.06,11.20 M261.87,62.60 l8.06,11.20 " stroke="#000" stroke-width="0.88" fill="none"/></g>
<rect x="242.8" y="63.60" width="18.2" height="9.2" rx="0.8" fill="none" stroke="#ec1820" stroke-width="2.5" stroke-linejoin="round"/>
<text x="271.6" y="72.70" font-size="14.3" textLength="43.5" lengthAdjust="spacingAndGlyphs">Ag85A</text>
</svg></body></html>
